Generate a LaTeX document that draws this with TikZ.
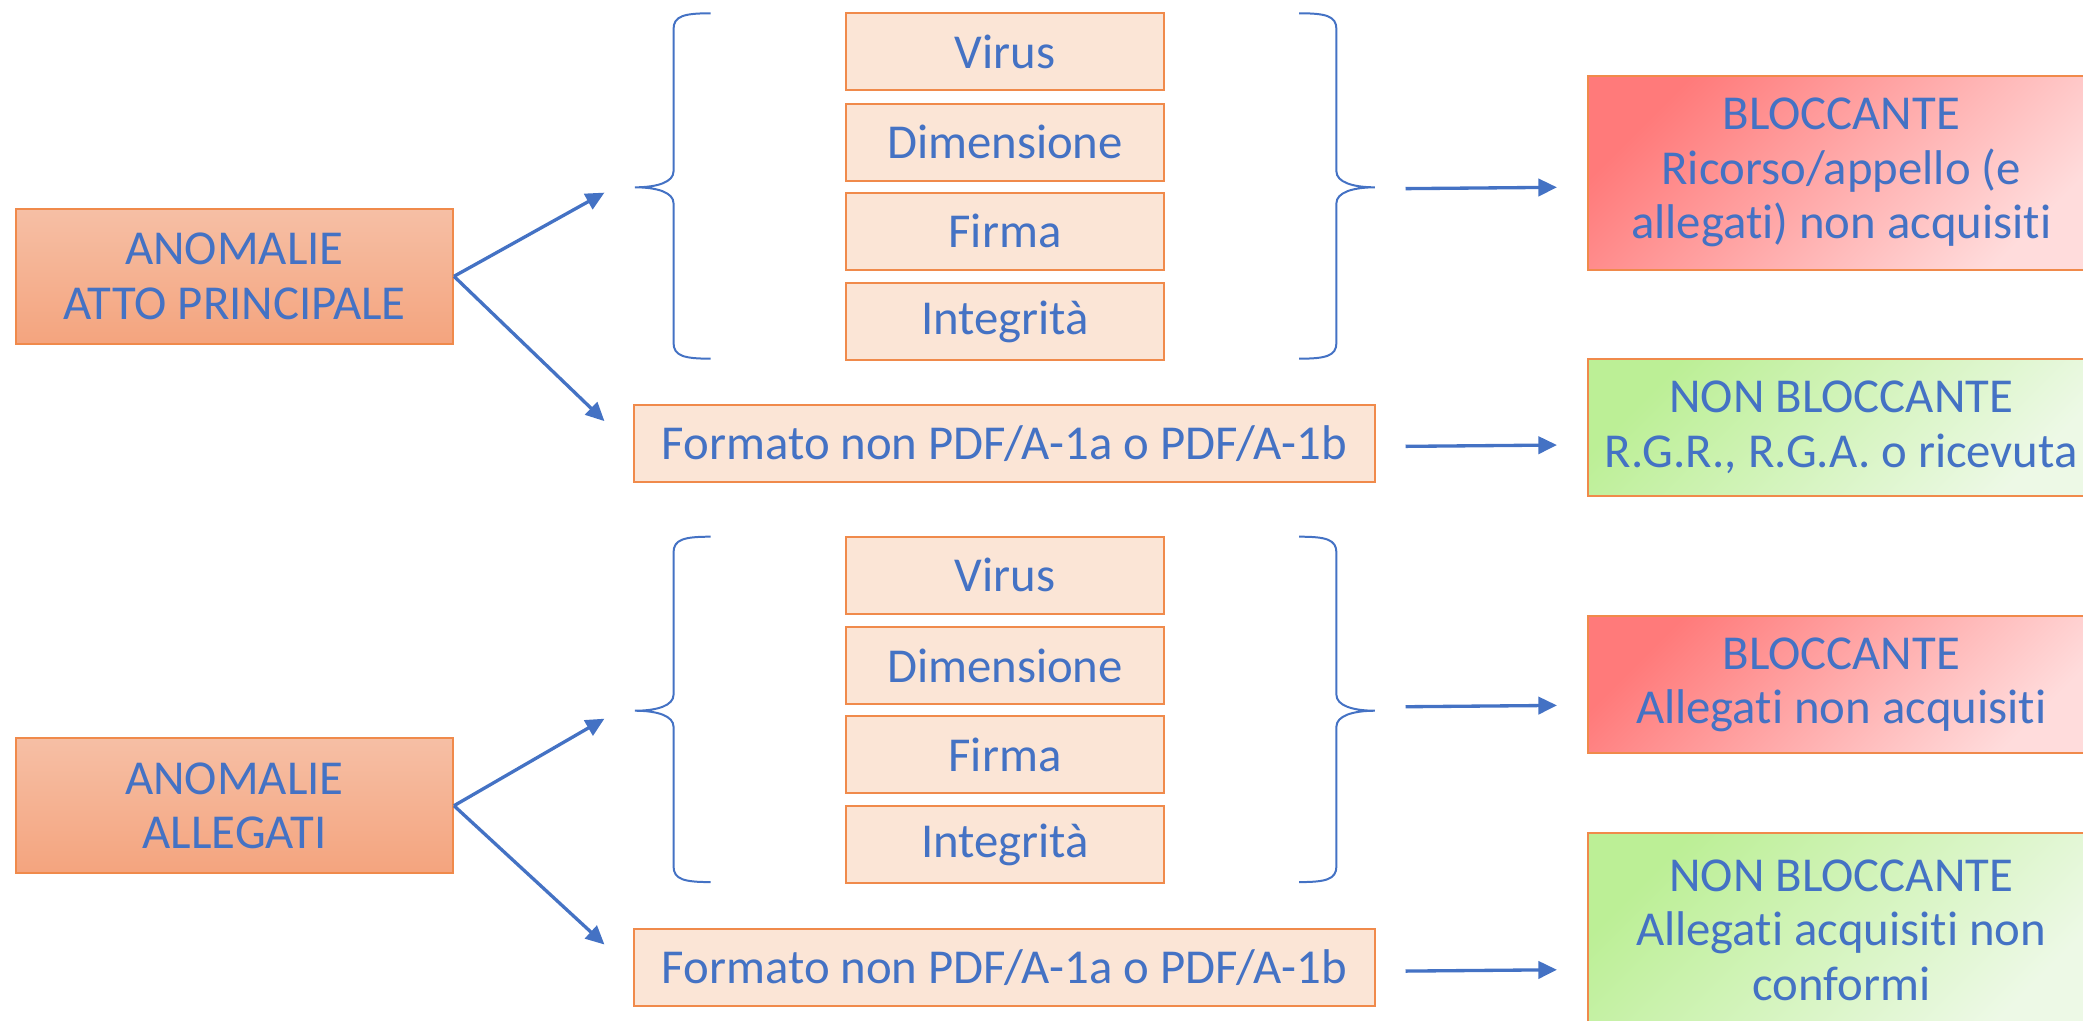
\documentclass[tikz,border=0pt]{standalone}
\usepackage{fontspec}
\setmainfont{Carlito}[Ligatures={NoCommon}]
\usetikzlibrary{arrows.meta}
\definecolor{txtblue}{HTML}{4472C4}
\definecolor{boxfill}{HTML}{FBE5D6}
\definecolor{boxline}{HTML}{F08A4B}
\definecolor{leftTop}{HTML}{F6BFA5}
\definecolor{leftBot}{HTML}{F4A47E}
\definecolor{redA}{HTML}{FF7A7A}
\definecolor{redB}{HTML}{FFDCDC}
\definecolor{greenA}{HTML}{BCEF96}
\definecolor{greenB}{HTML}{EDF9E6}
\begin{document}
\begin{tikzpicture}[x=1pt,y=-1pt,
  base/.style={draw=boxline, line width=1.5pt, inner sep=0pt, align=center,
    text=txtblue, font=\fontsize{36.7}{41}\selectfont},
  item/.style={base, fill=boxfill, minimum width=239pt, minimum height=58pt},
  fmt/.style={base, fill=boxfill, minimum width=558pt, minimum height=58pt},
  leftbox/.style={base, top color=leftTop, bottom color=leftBot, minimum width=329pt, minimum height=102pt},
  redbox/.style={base, top color=redA, bottom color=redB, shading angle=45, minimum width=382pt},
  greenbox/.style={base, top color=greenA, bottom color=greenB, shading angle=45, minimum width=382pt},
  arr/.style={draw=txtblue, line width=2.5pt, -{Triangle[length=14pt,width=13pt]}},
  bracepath/.style={draw=txtblue, line width=1.5pt},
  lbr/.pic={\draw[bracepath] (0,0) .. controls (-20,0) and (-28,2) .. (-28,12) -- (-28,119)
      .. controls (-28,127) and (-40,131) .. (-57,131)
      .. controls (-40,131) and (-28,135) .. (-28,143) -- (-28,248)
      .. controls (-28,258) and (-20,260) .. (0,260);},
  rbr/.pic={\draw[bracepath] (0,0) .. controls (20,0) and (28,2) .. (28,12) -- (28,119)
      .. controls (28,127) and (40,131) .. (57,131)
      .. controls (40,131) and (28,135) .. (28,143) -- (28,248)
      .. controls (28,258) and (20,260) .. (0,260);}
]
\useasboundingbox (0,0) rectangle (1568,768);

% ---- group 1 ----
\node[leftbox] (a1) at (176.5,208) {ANOMALIE\\ATTO PRINCIPALE};
\node[item] (v1) at (756.5,39) {Virus};
\node[item] (d1) at (756.5,107) {Dimensione};
\node[item] (f1) at (756.5,174) {Firma};
\node[item] (i1) at (756.5,242) {Integrità};
\node[fmt] (fm1) at (756,334) {Formato non PDF/A-1a o PDF/A-1b};
\pic at (535,10) {lbr};
\pic at (978,10) {rbr};
\node[redbox, minimum height=146pt] (b1) at (1386,130) {BLOCCANTE\\Ricorso/appello (e\\allegati) non acquisiti};
\node[greenbox, minimum height=103pt] (n1) at (1386,321.5) {NON BLOCCANTE\\R.G.R., R.G.A. o ricevuta};

\coordinate (t1a) at (455,145);
\coordinate (t1b) at (455,317);
\draw[arr] (a1.east) -- (t1a);
\draw[arr] (a1.east) -- (t1b);
\coordinate (s1a) at (1058,142);
\coordinate (e1a) at (1172,141);
\coordinate (s1b) at (1058,336);
\coordinate (e1b) at (1172,335);
\draw[arr] (s1a) -- (e1a);
\draw[arr] (s1b) -- (e1b);

% ---- group 2 ----
\node[leftbox] (a2) at (176.5,606.5) {ANOMALIE\\ALLEGATI};
\node[item] (v2) at (756.5,433) {Virus};
\node[item] (d2) at (756.5,501) {Dimensione};
\node[item] (f2) at (756.5,568) {Firma};
\node[item] (i2) at (756.5,636) {Integrità};
\node[fmt] (fm2) at (756,728) {Formato non PDF/A-1a o PDF/A-1b};
\pic at (535,404) {lbr};
\pic at (978,404) {rbr};
\node[redbox, minimum height=103pt] (b2) at (1386,515.5) {BLOCCANTE\\Allegati non acquisiti};
\node[greenbox, minimum height=146pt] (n2) at (1386,700) {NON BLOCCANTE\\Allegati acquisiti non\\conformi};

\coordinate (t2a) at (455,541);
\coordinate (t2b) at (455,711);
\draw[arr] (a2.east) -- (t2a);
\draw[arr] (a2.east) -- (t2b);
\coordinate (s2a) at (1058,532);
\coordinate (e2a) at (1172,531);
\coordinate (s2b) at (1058,731);
\coordinate (e2b) at (1172,730);
\draw[arr] (s2a) -- (e2a);
\draw[arr] (s2b) -- (e2b);
\end{tikzpicture}
\end{document}
